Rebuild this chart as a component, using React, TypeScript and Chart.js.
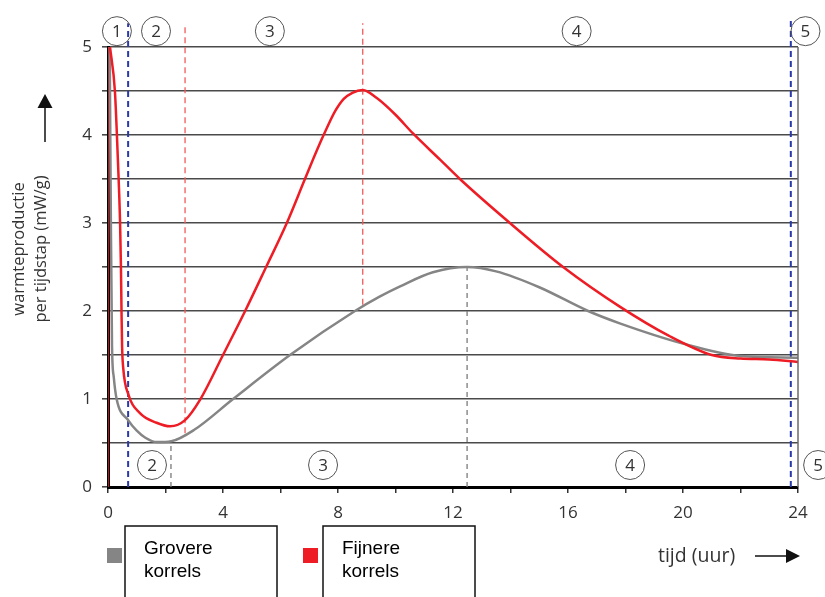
import { useEffect, useRef } from "react";
import { Chart, registerables } from "chart.js";

Chart.register(...registerables);

// Heat production per time step (mW/g) against time (hours)
const fineGrainHours = [0.07, 0.24, 0.31, 0.37, 0.42, 0.45, 0.47, 0.49, 0.53, 0.71, 1.11, 1.69, 2.16, 2.68, 3.2, 4.0, 4.77, 5.5, 6.22, 6.85, 7.27, 7.6, 7.9, 8.2, 8.5, 8.86, 9.35, 10.0, 10.6, 11.55, 12.24, 13.98, 15.83, 17.8, 19.5, 21.0, 22.0, 23.0, 24.0];
const fineGrainHeat = [5.0, 4.5, 4.0, 3.5, 3.0, 2.5, 2.0, 1.6, 1.35, 1.05, 0.84, 0.73, 0.69, 0.76, 0.99, 1.5, 2.0, 2.5, 3.0, 3.5, 3.83, 4.07, 4.27, 4.41, 4.48, 4.51, 4.42, 4.23, 4.02, 3.72, 3.5, 3.0, 2.5, 2.05, 1.72, 1.5, 1.46, 1.45, 1.42];

const coarseGrainHours = [0.06, 0.1, 0.14, 0.2, 0.3, 0.7, 1.0, 1.3, 1.7, 2.2, 3.0, 4.35, 6.33, 8.59, 9.43, 10.16, 11.3, 12.49, 13.5, 15.0, 16.7, 17.8, 20.0, 22.0, 24.0];
const coarseGrainHeat = [5.0, 3.0, 1.6, 1.25, 1.0, 0.76, 0.64, 0.56, 0.51, 0.52, 0.65, 1.0, 1.5, 2.0, 2.16, 2.28, 2.44, 2.5, 2.45, 2.27, 2.0, 1.86, 1.63, 1.49, 1.47];

// Phase boundaries and reference lines: [x, yFrom, yTo]
const blueBoundaries = [[0.7, 0, 5.27], [23.75, 0, 5.3]];
const redMarkers = [[2.68, 0.61, 5.27], [8.86, 2.07, 5.27]];
const greyMarkers = [[2.19, 0, 0.51], [12.49, 0, 2.5]];

// Circled phase numbers: [label, x (hours), y (mW/g)]
const topPhases = [["1", 0.31, 5.18], ["2", 1.67, 5.18], ["3", 5.63, 5.18], ["4", 16.3, 5.18], ["5", 24.26, 5.18]];
const bottomPhases = [["2", 1.53, 0.25], ["3", 7.48, 0.25], ["4", 18.16, 0.25], ["5", 24.7, 0.25]];

const yTitleLines = ["warmteproductie", "per tijdstap (mW/g)"];
const xTitle = "tijd (uur)";
const seriesLabels = ["Grovere korrels", "Fijnere korrels"];

const RED = "#ee1c24";
const GREY = "#858585";

const toPoints = (xs: number[], ys: number[]) => xs.map((x, i) => ({ x, y: ys[i] }));

const decorPlugin = {
  id: "decor",
  afterDraw(chart: any) {
    const { ctx, chartArea: a, scales } = chart;
    const xs = scales.x;
    const ys = scales.y;
    ctx.save();

    // right frame
    ctx.strokeStyle = "#6b6b6b";
    ctx.lineWidth = 1.5;
    ctx.beginPath();
    ctx.moveTo(a.right, a.top);
    ctx.lineTo(a.right, a.bottom);
    ctx.stroke();

    // circled phase numbers
    ctx.font = "17px 'Open Sans'";
    ctx.textAlign = "center";
    ctx.textBaseline = "middle";
    for (const [label, hx, hy] of [...topPhases, ...bottomPhases] as [string, number, number][]) {
      const px = xs.getPixelForValue(hx);
      const py = ys.getPixelForValue(hy);
      ctx.strokeStyle = "#555";
      ctx.lineWidth = 1;
      ctx.beginPath();
      ctx.arc(px, py, 14.5, 0, Math.PI * 2);
      ctx.stroke();
      ctx.fillStyle = "#333";
      ctx.fillText(label, px, py + 1);
    }

    // y-axis title with arrow
    ctx.fillStyle = "#333";
    ctx.font = "16.5px 'Open Sans'";
    yTitleLines.forEach((line, i) => {
      ctx.save();
      ctx.translate(19 + i * 22, 249);
      ctx.rotate(-Math.PI / 2);
      ctx.fillText(line, 0, 0);
      ctx.restore();
    });
    ctx.strokeStyle = "#111";
    ctx.fillStyle = "#111";
    ctx.lineWidth = 1.5;
    ctx.beginPath();
    ctx.moveTo(45, 142);
    ctx.lineTo(45, 106);
    ctx.stroke();
    ctx.beginPath();
    ctx.moveTo(37.5, 108);
    ctx.lineTo(52.5, 108);
    ctx.lineTo(45, 94);
    ctx.closePath();
    ctx.fill();

    // x-axis title with arrow
    ctx.fillStyle = "#333";
    ctx.font = "19.5px 'Open Sans'";
    ctx.textAlign = "left";
    ctx.fillText(xTitle, 658, 556);
    ctx.strokeStyle = "#111";
    ctx.fillStyle = "#111";
    ctx.beginPath();
    ctx.moveTo(755, 556);
    ctx.lineTo(788, 556);
    ctx.stroke();
    ctx.beginPath();
    ctx.moveTo(786, 549);
    ctx.lineTo(786, 563);
    ctx.lineTo(800, 556);
    ctx.closePath();
    ctx.fill();

    // legend
    const legendItems = [
      { label: seriesLabels[0], color: GREY, sq: 107, box: 125 },
      { label: seriesLabels[1], color: RED, sq: 303, box: 323 },
    ];
    ctx.font = "19px 'Liberation Sans'";
    ctx.textBaseline = "middle";
    for (const it of legendItems) {
      ctx.fillStyle = it.color;
      ctx.fillRect(it.sq, 548, 15, 15);
      ctx.strokeStyle = "#111";
      ctx.lineWidth = 1.5;
      ctx.strokeRect(it.box, 526, 152, 90);
      ctx.fillStyle = "#000";
      const [w1, w2] = it.label.split(" ");
      ctx.fillText(w1, it.box + 19, 549);
      ctx.fillText(w2, it.box + 19, 572);
    }
    ctx.restore();
  },
};

export default function App() {
  const ref = useRef<HTMLCanvasElement | null>(null);

  useEffect(() => {
    if (!ref.current) return;
    const guide = (seg: number[], color: string, width: number, dash: number[]) => ({
      data: [{ x: seg[0], y: seg[1] }, { x: seg[0], y: seg[2] }],
      borderColor: color,
      borderWidth: width,
      borderDash: dash,
      pointRadius: 0,
      clip: false as any,
      order: 5,
    });
    const chart = new Chart(ref.current, {
      type: "line",
      data: {
        datasets: [
          {
            label: seriesLabels[1],
            data: toPoints(fineGrainHours, fineGrainHeat),
            borderColor: RED,
            borderWidth: 2.5,
            pointRadius: 0,
            cubicInterpolationMode: "monotone",
            order: 1,
          },
          {
            label: seriesLabels[0],
            data: toPoints(coarseGrainHours, coarseGrainHeat),
            borderColor: GREY,
            borderWidth: 2.5,
            pointRadius: 0,
            cubicInterpolationMode: "monotone",
            order: 2,
          },
          {
            data: [{ x: 0, y: 0 }, { x: 0, y: 5 }],
            borderColor: RED,
            borderWidth: 1.5,
            pointRadius: 0,
            order: 3,
          },
          ...blueBoundaries.map((s) => guide(s, "#2a3aa8", 2, [6, 4])),
          ...redMarkers.map((s) => guide(s, "#f25a5a", 1.3, [6, 4])),
          ...greyMarkers.map((s) => guide(s, "#7a7a7a", 1.3, [5, 4])),
        ] as any,
      },
      options: {
        animation: false,
        responsive: false,
        devicePixelRatio: 1,
        layout: { padding: { top: 47, right: 27, left: 0, bottom: 0 } },
        plugins: { legend: { display: false }, tooltip: { enabled: false } },
        scales: {
          x: {
            type: "linear",
            min: 0,
            max: 24,
            afterFit: (s: any) => {
              s.height = 110;
            },
            ticks: {
              stepSize: 2,
              autoSkip: false,
              maxRotation: 0,
              padding: 10,
              color: "#333",
              font: { family: "'Open Sans'", size: 17 },
              callback: (v: any) => (Number(v) % 4 === 0 ? String(v) : ""),
            },
            grid: { drawOnChartArea: false, tickLength: 6, color: "#333", lineWidth: 1.5 },
            border: { color: "#000", width: 3 },
          },
          y: {
            min: 0,
            max: 5,
            afterFit: (s: any) => {
              s.width = 108;
            },
            ticks: {
              stepSize: 0.5,
              autoSkip: false,
              padding: 10,
              color: "#333",
              font: { family: "'Open Sans'", size: 17 },
              callback: (v: any) => (Number.isInteger(Number(v)) ? String(v) : ""),
            },
            grid: { color: "#4a4a4a", lineWidth: 1.6, tickLength: 6 },
            border: { color: "#000", width: 3 },
          },
        },
      },
      plugins: [decorPlugin],
    });
    return () => chart.destroy();
  }, []);

  return (
    <div style={{ position: "absolute", left: 0, top: 0, width: 825, height: 597, background: "#fff" }}>
      <canvas ref={ref} width={825} height={597} style={{ display: "block", width: 825, height: 597 }} />
    </div>
  );
}
